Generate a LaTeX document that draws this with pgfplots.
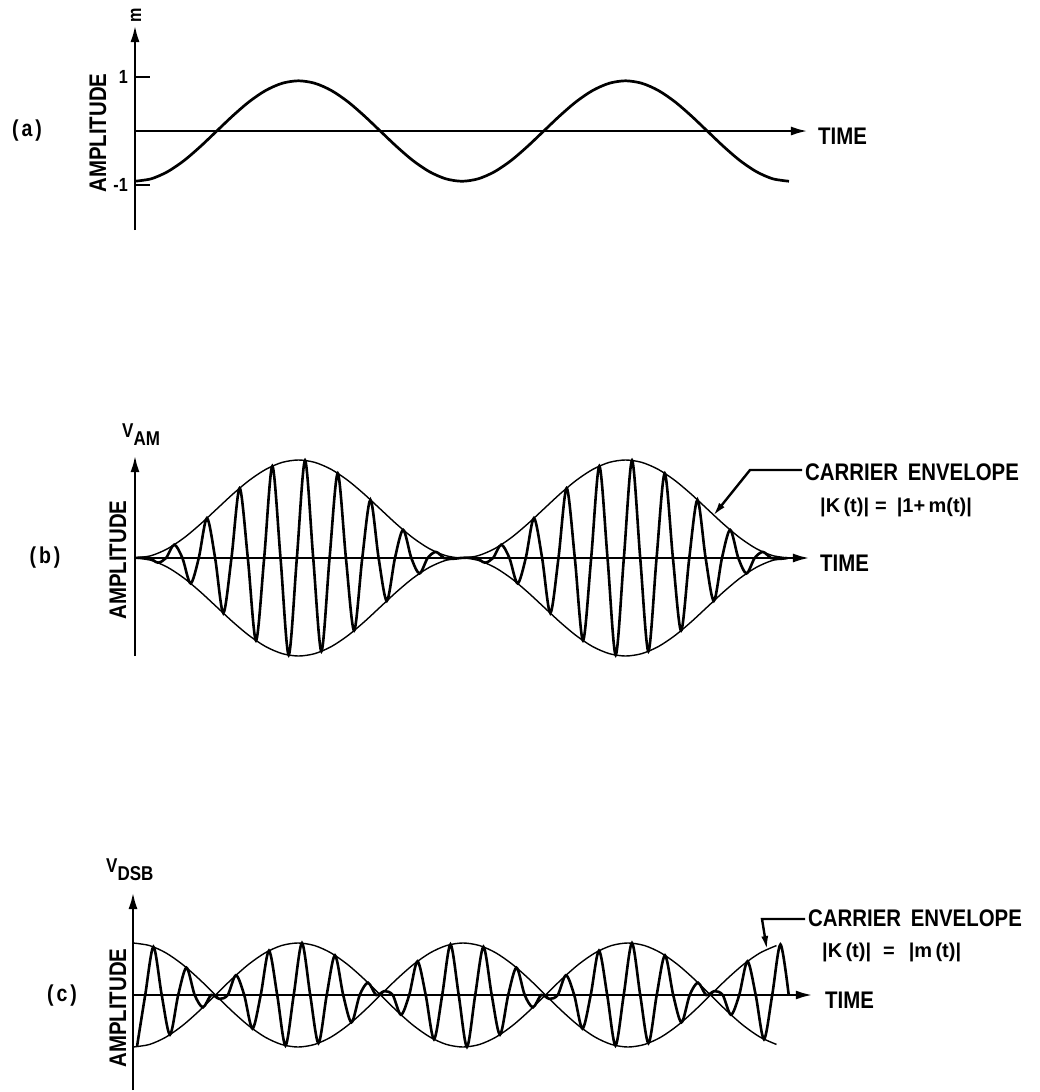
\documentclass[border=0pt]{standalone}
\usepackage{fontspec}
\setmainfont{Liberation Sans}[FakeStretch=0.85]
\newfontfamily\widefont{Liberation Sans}
\usepackage{pgfplots}
\pgfplotsset{compat=1.18}
\usepackage{pgfplotstable}
\usetikzlibrary{arrows.meta}

% (a) modulating signal m(t)
\pgfplotstableread{
t m
0 -0.930
0.5 -0.884
1 -0.752
1.5 -0.547
2 -0.287
2.5 0
3 0.287
3.5 0.547
4 0.752
4.5 0.884
5 0.930
5.5 0.884
6 0.752
6.5 0.547
7 0.287
7.5 0
8 -0.287
8.5 -0.547
9 -0.752
9.5 -0.884
10 -0.930
10.5 -0.884
11 -0.752
11.5 -0.547
12 -0.287
12.5 0
13 0.287
13.5 0.547
14 0.752
14.5 0.884
15 0.930
15.5 0.884
16 0.752
16.5 0.547
17 0.287
17.5 0
18 -0.287
18.5 -0.547
19 -0.752
19.5 -0.884
20 -0.930
}\msig

% (b) AM envelope |1+m(t)|
\pgfplotstableread{
t up lo
0 0 0
0.5 0.049 -0.049
1 0.191 -0.191
1.5 0.412 -0.412
2 0.691 -0.691
2.5 1 -1
3 1.309 -1.309
3.5 1.588 -1.588
4 1.809 -1.809
4.5 1.951 -1.951
5 2 -2
5.5 1.951 -1.951
6 1.809 -1.809
6.5 1.588 -1.588
7 1.309 -1.309
7.5 1 -1
8 0.691 -0.691
8.5 0.412 -0.412
9 0.191 -0.191
9.5 0.049 -0.049
10 0 0
10.5 0.049 -0.049
11 0.191 -0.191
11.5 0.412 -0.412
12 0.691 -0.691
12.5 1 -1
13 1.309 -1.309
13.5 1.588 -1.588
14 1.809 -1.809
14.5 1.951 -1.951
15 2 -2
15.5 1.951 -1.951
16 1.809 -1.809
16.5 1.588 -1.588
17 1.309 -1.309
17.5 1 -1
18 0.691 -0.691
18.5 0.412 -0.412
19 0.191 -0.191
19.5 0.049 -0.049
20 0 0
}\amenv

% (b) AM carrier
\pgfplotstableread{
t v
0 0
0.2 0.008
0.45 0
0.7 -0.095
0.95 0
1.2 0.271
1.45 0
1.7 -0.518
1.95 0
2.2 0.813
2.45 0
2.7 -1.125
2.95 0
3.2 1.426
3.45 0
3.7 -1.685
3.95 0
4.2 1.876
4.45 0
4.7 -1.982
4.95 0
5.2 1.992
5.45 0
5.7 -1.905
5.95 0
6.2 1.729
6.45 0
6.7 -1.482
6.95 0
7.2 1.187
7.45 0
7.7 -0.875
7.95 0
8.2 0.574
8.45 0
8.7 -0.315
8.95 0
9.2 0.124
9.45 0
9.7 -0.018
9.95 0
10.2 0.008
10.45 0
10.7 -0.095
10.95 0
11.2 0.271
11.45 0
11.7 -0.518
11.95 0
12.2 0.813
12.45 0
12.7 -1.125
12.95 0
13.2 1.426
13.45 0
13.7 -1.685
13.95 0
14.2 1.876
14.45 0
14.7 -1.982
14.95 0
15.2 1.992
15.45 0
15.7 -1.905
15.95 0
16.2 1.729
16.45 0
16.7 -1.482
16.95 0
17.2 1.187
17.45 0
17.7 -0.875
17.95 0
18.2 0.574
18.45 0
18.7 -0.315
18.95 0
19.2 0.124
19.45 0
19.7 -0.018
19.95 0
}\amcar

% (c) DSB envelope +-m(t)
\pgfplotstableread{
t up lo
0 -1 1
0.5 -0.951 0.951
1 -0.809 0.809
1.5 -0.588 0.588
2 -0.309 0.309
2.5 0 0
3 0.309 -0.309
3.5 0.588 -0.588
4 0.809 -0.809
4.5 0.951 -0.951
5 1 -1
5.5 0.951 -0.951
6 0.809 -0.809
6.5 0.588 -0.588
7 0.309 -0.309
7.5 0 0
8 -0.309 0.309
8.5 -0.588 0.588
9 -0.809 0.809
9.5 -0.951 0.951
10 -1 1
10.5 -0.951 0.951
11 -0.809 0.809
11.5 -0.588 0.588
12 -0.309 0.309
12.5 0 0
13 0.309 -0.309
13.5 0.588 -0.588
14 0.809 -0.809
14.5 0.951 -0.951
15 1 -1
15.5 0.951 -0.951
16 0.809 -0.809
16.5 0.588 -0.588
17 0.309 -0.309
17.5 0 0
18 -0.309 0.309
18.5 -0.588 0.588
19 -0.809 0.809
19.5 -0.951 0.951
}\dsbenv

% (c) DSB carrier
\pgfplotstableread{
t v
0.12 -0.997
0.37 0
0.62 0.925
0.87 0
1.12 -0.762
1.37 0
1.62 0.525
1.87 0
2.12 -0.236
2.37 0
2.62 -0.075
2.87 0
3.12 0.380
3.37 0
3.62 -0.647
3.87 0
4.12 0.851
4.37 0
4.62 -0.972
4.87 0
5.12 0.997
5.37 0
5.62 -0.925
5.87 0
6.12 0.762
6.37 0
6.62 -0.525
6.87 0
7.12 0.236
7.37 0
7.62 0.075
7.87 0
8.12 -0.380
8.37 0
8.62 0.647
8.87 0
9.12 -0.851
9.37 0
9.62 0.972
9.87 0
10.12 -0.997
10.37 0
10.62 0.925
10.87 0
11.12 -0.762
11.37 0
11.62 0.525
11.87 0
12.12 -0.236
12.37 0
12.62 -0.075
12.87 0
13.12 0.380
13.37 0
13.62 -0.647
13.87 0
14.12 0.851
14.37 0
14.62 -0.972
14.87 0
15.12 0.997
15.37 0
15.62 -0.925
15.87 0
16.12 0.762
16.37 0
16.62 -0.525
16.87 0
17.12 0.236
17.37 0
17.62 0.075
17.87 0
18.12 -0.380
18.37 0
18.62 0.647
18.87 0
19.12 -0.851
19.37 0
19.62 0.972
19.87 0
}\dsbcar

\pgfplotsset{
  sig/.style={
    axis lines=middle,
    anchor=south west,
    enlargelimits=false,
    clip=false,
    xmin=0,
    xtick=\empty, ytick=\empty,
    axis line style={line width=2.7bp, black},
    every inner x axis line/.append style={-{Latex[length=17bp,width=9bp]}},
    every inner y axis line/.append style={-{Latex[length=17bp,width=9bp]}},
  },
  car/.style={smooth, line width=2.6bp, black, no marks},
  env/.style={smooth, line width=1.4bp, black, no marks},
}

\newcommand\lblbig{\fontsize{24bp}{28bp}\selectfont}
\newcommand\lblmid{\fontsize{20bp}{24bp}\selectfont}

\begin{document}
\bfseries
\begin{tikzpicture}[every node/.style={inner sep=0pt}]
\useasboundingbox (0,0) rectangle (1040bp,-1092bp);

% ---------- (a)
\begin{axis}[sig, at={(135bp,-230bp)},
  x=32.7bp, y=54bp, xmax=20.58, ymin=-1.833, ymax=1.963,
  ytick={-1,1}, yticklabels={-1,1},
  tick align=inside, major tick length=15bp,
  tick style={line width=2.6bp, black},
  yticklabel style={font=\fontsize{19bp}{22bp}\selectfont, xshift=-7bp}]
\addplot[smooth, line width=2.7bp, black, no marks] table[x=t, y=m] {\msig};
\end{axis}
\node[rotate=90] at (136bp,-15bp) {\fontsize{19bp}{22bp}\selectfont m};
\node[rotate=90] at (98bp,-133bp) {\lblbig AMPLITUDE};
\node at (27bp,-131bp) {\fontsize{23bp}{27bp}\selectfont (\kern3bp a\kern3bp)};
\node[anchor=west] at (818bp,-136bp) {\lblbig TIME};

% ---------- (b)
\begin{axis}[sig, at={(135bp,-656bp)},
  x=32.7bp, y=49bp, xmax=20.64, ymin=-2.0, ymax=2.10]
\addplot[env] table[x=t, y=up] {\amenv};
\addplot[env] table[x=t, y=lo] {\amenv};
\addplot[car] table[x=t, y=v] {\amcar};
\end{axis}
\node[anchor=west] at (122bp,-435bp) {\lblmid V\raisebox{-8bp}{AM}};
\node[rotate=90] at (118bp,-560bp) {\lblbig AMPLITUDE};
\node at (45bp,-558bp) {\fontsize{23bp}{27bp}\selectfont (\kern3bp b\kern3bp)};
\node[anchor=west] at (820bp,-563bp) {\lblbig TIME};
\node[anchor=west] at (805bp,-472bp) {\lblbig CARRIER\hspace{4bp} ENVELOPE};
\node[anchor=west] at (820bp,-507bp) {\widefont\lblmid |K\,(t)|\hspace{6bp}=\hspace{10bp}|1+\,m(t)|};
\draw[line width=2.4bp, -{Latex[length=14bp,width=7bp]}] (802bp,-470bp) -- (750bp,-470bp) -- (713bp,-516bp);

% ---------- (c)
\begin{axis}[sig, at={(133bp,-1090bp)},
  x=33bp, y=52bp, xmax=20.6, ymin=-1.827, ymax=1.98]
\addplot[env] table[x=t, y=up] {\dsbenv};
\addplot[env] table[x=t, y=lo] {\dsbenv};
\addplot[car] table[x=t, y=v] {\dsbcar};
\end{axis}
\node[anchor=west] at (106bp,-870bp) {\lblmid V\raisebox{-8bp}{DSB}};
\node[rotate=90] at (118bp,-1008bp) {\lblbig AMPLITUDE};
\node at (62bp,-996bp) {\fontsize{23bp}{27bp}\selectfont (\kern3bp c\kern3bp)};
\node[anchor=west] at (825bp,-1000bp) {\lblbig TIME};
\node[anchor=west] at (808bp,-918bp) {\lblbig CARRIER\hspace{4bp} ENVELOPE};
\node[anchor=west] at (822bp,-952bp) {\widefont\lblmid |K\,(t)|\hspace{12bp}=\hspace{14bp}|m\,(t)|};
\draw[line width=2.4bp, -{Latex[length=14bp,width=7bp]}] (805bp,-919bp) -- (762bp,-919bp) -- (767bp,-950bp);
\end{tikzpicture}
\end{document}
